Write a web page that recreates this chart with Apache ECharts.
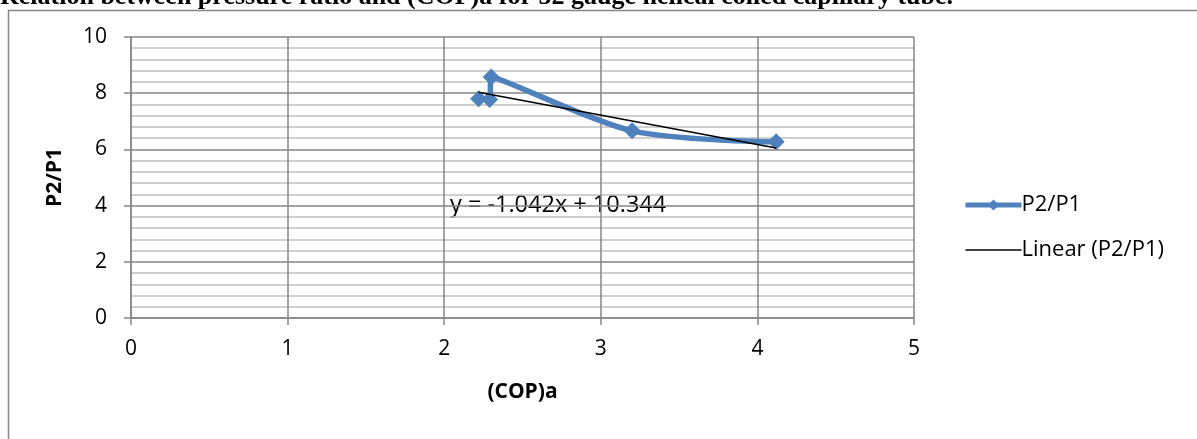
<!DOCTYPE html>
<html>
<head>
<meta charset="utf-8">
<script src="https://cdn.jsdelivr.net/npm/echarts@6/dist/echarts.min.js"></script>
<style>
html,body{margin:0;padding:0;background:#fff;}
#c{width:1197px;height:439px;}
</style>
</head>
<body>
<div id="c"></div>
<script>
// Data
var copA = [2.22, 2.29, 2.30, 3.20, 4.12];
var p2p1 = [7.80, 7.78, 8.58, 6.66, 6.27];
var trendCoef = [-1.042, 10.344]; // slope, intercept
var xTicks = [0, 1, 2, 3, 4, 5];
var yTicks = [0, 2, 4, 6, 8, 10];
var seriesNames = ['P2/P1', 'Linear (P2/P1)'];
var titleText = 'Relation between pressure ratio and (COP)a for 52 gauge helical coiled capillary tube.';
var eqText = 'y = -1.042x + 10.344';

var pts = copA.map(function (x, i) { return [x, p2p1[i]]; });
var xmin = Math.min.apply(null, copA), xmax = Math.max.apply(null, copA);
var trend = [[xmin, trendCoef[0] * xmin + trendCoef[1]], [xmax, trendCoef[0] * xmax + trendCoef[1]]];

var FONT = '"Open Sans"';
var FS = 21;
var chart = echarts.init(document.getElementById('c'), null, {renderer: 'canvas'});
chart.setOption({
  animation: false,
  backgroundColor: '#fff',
  textStyle: {fontFamily: FONT},
  grid: {left: 131, top: 37, width: 783, height: 281, containLabel: false},
  xAxis: {
    type: 'value', min: xTicks[0], max: xTicks[xTicks.length - 1], interval: 1,
    axisLine: {show: true, lineStyle: {color: '#868686', width: 1.5}},
    axisTick: {show: true, length: 7, lineStyle: {color: '#868686', width: 1.5}},
    axisLabel: {fontSize: FS, color: '#000', margin: 21, fontFamily: FONT},
    splitLine: {show: true, lineStyle: {color: '#868686', width: 1.5}},
    name: '(COP)a', nameLocation: 'middle', nameGap: 64,
    nameTextStyle: {fontSize: FS, fontWeight: 'bold', color: '#000', fontFamily: FONT}
  },
  yAxis: {
    type: 'value', min: yTicks[0], max: yTicks[yTicks.length - 1], interval: 2,
    axisLine: {show: true, lineStyle: {color: '#868686', width: 1.5}},
    axisTick: {show: true, length: 7, lineStyle: {color: '#868686', width: 1.5}},
    axisLabel: {fontSize: FS, color: '#000', margin: 24, fontFamily: FONT},
    splitLine: {show: true, lineStyle: {color: '#868686', width: 1.5}},
    minorTick: {show: false, splitNumber: 5},
    minorSplitLine: {show: true, lineStyle: {color: '#c0c0c0', width: 1.5}},
    name: 'P2/P1', nameLocation: 'middle', nameGap: 65, nameRotate: 90,
    nameTextStyle: {fontSize: FS, fontWeight: 'bold', color: '#000', fontFamily: FONT}
  },
  legend: {
    orient: 'vertical', left: 958, top: 189, itemWidth: 56, itemHeight: 14, itemGap: 23,
    textStyle: {fontSize: 22, color: '#000', fontFamily: FONT, padding: [0, 0, 0, -5]},
    data: [
      {name: seriesNames[0], lineStyle: {width: 5}},
      {name: seriesNames[1], itemStyle: {opacity: 0}, lineStyle: {width: 1.5}}
    ]
  },
  series: [
    {
      name: seriesNames[0], type: 'line', data: pts, smooth: 0.3,
      symbol: 'diamond', symbolSize: 17,
      lineStyle: {color: '#4F81BD', width: 5.5},
      itemStyle: {color: '#4F81BD'}, z: 2
    },
    {
      name: seriesNames[1], type: 'line', data: trend, symbol: 'none',
      lineStyle: {color: '#000', width: 1.5}, itemStyle: {color: '#000'}, z: 3
    }
  ],
  graphic: [
    {type: 'rect', left: 6, top: 8, shape: {width: 1400, height: 600},
     style: {fill: 'none', stroke: '#868686', lineWidth: 1.5}, silent: true},
    {type: 'text', left: 0, top: -16,
     style: {text: titleText, font: 'bold 26px "Liberation Serif"', fill: '#000'}},
    {type: 'text', left: 450, top: 193,
     style: {text: eqText, font: '23.5px ' + FONT, fill: '#000'}}
  ]
});
</script>
</body>
</html>
